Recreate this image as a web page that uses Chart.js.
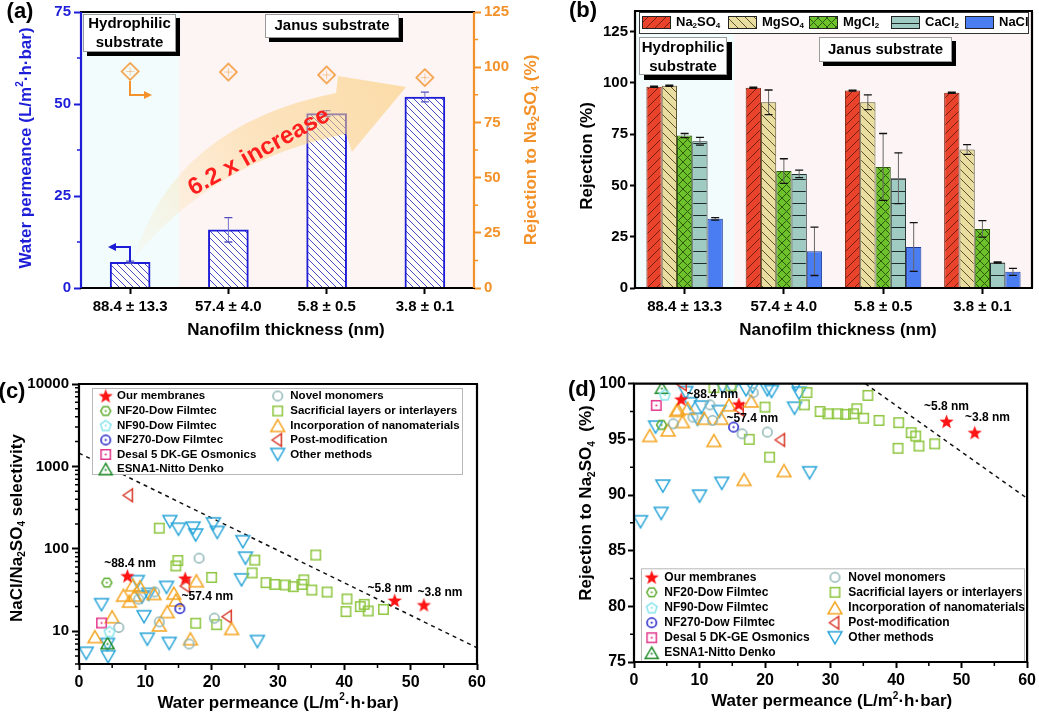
<!DOCTYPE html>
<html>
<head>
<meta charset="utf-8">
<script src="https://cdn.jsdelivr.net/npm/chart.js@4.4.1/dist/chart.umd.min.js"></script>
<style>
  body { margin: 0; background: #fff; }
  #wrap { position: relative; width: 1039px; height: 714px; overflow: hidden; background: #fff; }
  canvas { position: absolute; }
</style>
</head>
<body>
<div id="wrap">
  <canvas id="ca" width="548" height="345" style="left:0;top:0"></canvas>
  <canvas id="cb" width="491" height="345" style="left:548px;top:0"></canvas>
  <canvas id="cc" width="520" height="369" style="left:0;top:345px"></canvas>
  <canvas id="cd" width="519" height="369" style="left:520px;top:345px"></canvas>
</div>
<script>
// ── Data (a): permeance + Na2SO4 rejection ─────────────────────────────────
const THICKNESS = ['88.4 ± 13.3', '57.4 ± 4.0', '5.8 ± 0.5', '3.8 ± 0.1'];
const PERMEANCE = [7.0, 15.8, 47.4, 51.9];
const PERMEANCE_ERR = [0.3, 3.3, 0.8, 1.3];
const REJ_NA2SO4_A = [98.1, 97.8, 96.5, 95.3];
const A_LEFT_TICKS = [0, 25, 50, 75];
const A_RIGHT_TICKS = [0, 25, 50, 75, 100, 125];

// ── Data (b): salt rejection ──────────────────────────────────────────────────
const SALTS = ['Na_2SO_4', 'MgSO_4', 'MgCl_2', 'CaCl_2', 'NaCl'];
const REJ_NA2SO4 = [98.1, 97.6, 96.2, 95.2];
const REJ_MGSO4  = [98.6, 90.5, 90.5, 67.5];
const REJ_MGCL2  = [74.3, 57.0, 59.0, 28.8];
const REJ_CACL2  = [71.5, 55.6, 53.5, 12.4];
const REJ_NACL   = [33.7, 17.9, 20.0, 7.9];
const ERR_NA2SO4 = [0.3, 0.3, 0.2, 0.3];
const ERR_MGSO4  = [0.3, 6.0, 3.6, 2.4];
const ERR_MGCL2  = [1.0, 6.0, 16.3, 4.0];
const ERR_CACL2  = [1.9, 1.8, 12.4, 0.3];
const ERR_NACL   = [0.6, 11.8, 11.9, 1.7];
const B_TICKS = [0, 25, 50, 75, 100, 125];

// ── Data (c)/(d): literature comparison, [permeance, value] ──────────────────
const CATS = ['Our membranes', 'NF20-Dow Filmtec', 'NF90-Dow Filmtec', 'NF270-Dow Filmtec',
  'Desal 5 DK-GE Osmonics', 'ESNA1-Nitto Denko', 'Novel monomers', 'Sacrificial layers or interlayers',
  'Incorporation of nanomaterials', 'Post-modification', 'Other methods'];
const X_TICKS = [0, 10, 20, 30, 40, 50, 60];
const C_TICKS = [10, 100, 1000, 10000];
const D_TICKS = [75, 80, 85, 90, 95, 100];

const C_OUR = [[7.3, 46.8], [16.0, 43.8], [47.6, 23.6], [52.0, 20.8]];
const C_NF20 = [[4.2, 38.8]];
const C_NF90 = [[4.6, 9.9]];
const C_NF270 = [[15.2, 18.8]];
const C_DESAL = [[3.4, 12.6]];
const C_ESNA1 = [[4.3, 7.2]];
const C_NOVEL = [[18.1, 77], [11.4, 30], [9.0, 24.5], [6.0, 11.1], [12.1, 13], [20.4, 14.4], [16.6, 7.0]];
const C_SACR = [[12.1, 178], [14.6, 62], [14.9, 72], [17.6, 12.5], [20.0, 45], [20.75, 12], [26.1, 51],
  [26.5, 73], [28.2, 38.8], [29.5, 37], [31.1, 36.4], [32.3, 34.7], [33.6, 37], [33.9, 41.9], [35.1, 31.6],
  [35.7, 84], [37.4, 29.9], [40.4, 24.6], [40.25, 17.3], [42.4, 19.9], [43.0, 21.2], [43.6, 17.6], [45.9, 18.4]];
const C_INCORP = [[2.4, 8.6], [5.0, 15], [6.7, 27.4], [7.6, 23.2], [8.4, 27.4], [9.2, 34.7], [8.1, 36.5],
  [11.3, 28.7], [12.1, 11.9], [13.3, 17.3], [14.3, 29], [14.6, 23.9], [16.8, 8.1], [17.7, 41], [23.0, 10.8]];
const C_POST = [[7.5, 447], [16.1, 35.4], [22.4, 15]];
const C_OTHER = [[13.7, 214], [15.0, 173], [17.2, 178], [17.6, 147], [20.25, 201], [20.85, 158], [24.7, 122],
  [25.1, 77], [24.5, 42], [8.8, 40], [10.5, 28], [9.5, 26], [13.2, 34], [3.4, 21], [9.8, 15], [4.3, 6.9],
  [4.4, 4.9], [1.1, 5.4], [10.3, 8.0], [13.6, 7.1], [26.9, 7.5]];
const C_LIMIT = [[0, 1450], [60, 6.3]];

const D_OUR = [[7.2, 98.6], [16.0, 98.15], [47.7, 96.6], [52.0, 95.6]];
const D_NF20 = [[4.2, 96.3]];
const D_NF90 = [[4.7, 99.0]];
const D_NF270 = [[15.2, 96.1]];
const D_DESAL = [[3.4, 98.05]];
const D_ESNA1 = [[4.25, 99.65]];
const D_NOVEL = [[18.2, 99.2], [11.6, 98.1], [9.0, 97.0], [6.0, 96.4], [12.0, 96.7], [20.35, 95.65], [16.5, 95.5]];
const D_SACR = [[12.2, 99.65], [14.8, 99.8], [17.6, 95.0], [20.0, 97.9], [20.7, 93.4], [26.0, 98.1], [26.4, 99.2],
  [28.4, 97.5], [29.6, 97.3], [31.1, 97.3], [32.3, 97.25], [33.5, 97.3], [34.0, 97.75], [35.05, 96.9],
  [35.7, 98.95], [37.4, 96.7], [40.4, 96.5], [40.3, 94.2], [42.3, 95.6], [43.0, 95.3], [43.5, 94.4], [45.9, 94.6]];
const D_INCORP = [[2.4, 95.35], [5.2, 95.85], [6.5, 97.6], [6.7, 97.7], [7.4, 96.6], [8.2, 97.8], [10.7, 96.9],
  [12.2, 94.9], [13.3, 96.9], [14.5, 98.1], [16.8, 91.4], [17.9, 98.45], [22.9, 92.2]];
const D_POST = [[7.4, 99.95], [16.1, 97.7], [22.4, 94.95]];
const D_OTHER = [[1.0, 87.6], [4.15, 88.35], [4.4, 90.8], [10.0, 89.9], [13.4, 91.05], [26.8, 92.0], [3.3, 96.1],
  [9.7, 96.8], [10.3, 97.9], [13.0, 97.5], [24.5, 97.8], [8.6, 98.2], [13.5, 99.7], [15.0, 99.6], [17.1, 99.45],
  [18.1, 99.7], [20.35, 99.45], [21.0, 99.3], [24.7, 99.9], [25.2, 99.15], [7.9, 99.2]];
const D_LIMIT = [[35.3, 100], [60, 89.7]];

const C_SETS = [C_OUR, C_NF20, C_NF90, C_NF270, C_DESAL, C_ESNA1, C_NOVEL, C_SACR, C_INCORP, C_POST, C_OTHER];
const D_SETS = [D_OUR, D_NF20, D_NF90, D_NF270, D_DESAL, D_ESNA1, D_NOVEL, D_SACR, D_INCORP, D_POST, D_OTHER];

// ── Styles ────────────────────────────────────────────────────────────────────
const FONT = '"Liberation Sans", Arial, Helvetica, sans-serif';
const BLUE = '#1d1dd8', ORANGE = '#f3922a';
const tf = (s) => ({ family: FONT, size: s, weight: 'bold' });

// marker: [shape, colour, size, centre dot]
const MARKS = [['star', '#ff1414', 15, false], ['hex', '#5cab2e', 11, true], ['pent', '#86e3ec', 12, true],
  ['circle', '#1c1cc8', 11, true], ['square', '#e3378c', 11, true], ['up', '#1d8a26', 15, true],
  ['circle', '#8db3b3', 11, false], ['square', '#8dc63f', 11, false], ['up', '#f5a623', 16, false],
  ['left', '#d8392a', 15, false], ['down', '#27a4d8', 16, false]];

// text with _x subscripts and ^x superscripts
function rich(ctx, str, x, y, size, color, align) {
    const parts = [];
    let buf = '';
    for (let i = 0; i < str.length; i++) {
        const c = str[i];
        if ((c === '_' || c === '^') && i + 1 < str.length) {
            if (buf) parts.push([buf, 0]);
            buf = '';
            parts.push([str[i + 1], c === '_' ? 1 : -1]);
            i++;
        } else buf += c;
    }
    if (buf) parts.push([buf, 0]);
    const fN = `bold ${size}px ${FONT}`, fS = `bold ${Math.round(size * 0.6)}px ${FONT}`;
    let w = 0;
    parts.forEach(p => { ctx.font = p[1] ? fS : fN; w += ctx.measureText(p[0]).width; });
    let cx = align === 'center' ? x - w / 2 : align === 'right' ? x - w : x;
    ctx.fillStyle = color;
    ctx.textBaseline = 'middle';
    ctx.textAlign = 'left';
    parts.forEach(p => {
        ctx.font = p[1] ? fS : fN;
        const dy = p[1] === 1 ? size * 0.32 : p[1] === -1 ? -size * 0.35 : 0;
        ctx.fillText(p[0], cx, y + dy);
        cx += ctx.measureText(p[0]).width;
    });
}
function richRot(ctx, str, x, y, size, color) {
    ctx.save();
    ctx.translate(x, y);
    ctx.rotate(-Math.PI / 2);
    rich(ctx, str, 0, 0, size, color, 'center');
    ctx.restore();
}

function hatch(bg, fg, kind, s, lw) {
    const c = document.createElement('canvas');
    c.width = s; c.height = s;
    const g = c.getContext('2d');
    if (bg) { g.fillStyle = bg; g.fillRect(0, 0, s, s); }
    g.strokeStyle = fg; g.lineWidth = lw;
    g.beginPath();
    if (kind === 'back' || kind === 'cross') {
        g.moveTo(-1, -1); g.lineTo(s + 1, s + 1);
        g.moveTo(-1, s - 1); g.lineTo(1, s + 1);
        g.moveTo(s - 1, -1); g.lineTo(s + 1, 1);
    }
    if (kind === 'fwd' || kind === 'cross') {
        g.moveTo(-1, s + 1); g.lineTo(s + 1, -1);
        g.moveTo(-1, 1); g.lineTo(1, -1);
        g.moveTo(s - 1, s + 1); g.lineTo(s + 1, s - 1);
    }
    if (kind === 'horiz') { g.moveTo(0, s - 0.5); g.lineTo(s, s - 0.5); }
    g.stroke();
    return g.createPattern(c, 'repeat');
}

function marker(shape, color, size, dot) {
    const S = size + 4, m = S / 2, r = size / 2;
    const c = document.createElement('canvas');
    c.width = S; c.height = S;
    const g = c.getContext('2d');
    g.strokeStyle = color; g.fillStyle = color; g.lineWidth = 1.5;
    const poly = (n, rot, rr, cy) => {
        for (let k = 0; k < n; k++) {
            const a = rot + k * 2 * Math.PI / n;
            const px = m + rr * Math.cos(a), py = cy + rr * Math.sin(a);
            k ? g.lineTo(px, py) : g.moveTo(px, py);
        }
        g.closePath();
    };
    g.beginPath();
    if (shape === 'star') {
        for (let k = 0; k < 10; k++) {
            const a = -Math.PI / 2 + k * Math.PI / 5, rr = k % 2 ? r * 0.42 : r;
            const px = m + rr * Math.cos(a), py = m + 0.6 + rr * Math.sin(a);
            k ? g.lineTo(px, py) : g.moveTo(px, py);
        }
        g.closePath();
        g.fill();
        return c;
    }
    if (shape === 'circle') g.arc(m, m, r - 0.8, 0, Math.PI * 2);
    if (shape === 'square') g.rect(m - r + 0.8, m - r + 0.8, size - 1.6, size - 1.6);
    if (shape === 'up') poly(3, -Math.PI / 2, r, m + r * 0.25);
    if (shape === 'down') poly(3, Math.PI / 2, r, m - r * 0.25);
    if (shape === 'left') {
        g.moveTo(m - r * 0.75, m); g.lineTo(m + r * 0.5, m - r * 0.85); g.lineTo(m + r * 0.5, m + r * 0.85); g.closePath();
    }
    if (shape === 'hex') poly(6, 0, r - 0.5, m);
    if (shape === 'pent') poly(5, -Math.PI / 2, r - 0.5, m + 0.5);
    if (shape === 'diamond') poly(4, -Math.PI / 2, r, m);
    g.stroke();
    if (dot) { g.beginPath(); g.arc(m, m + (shape === 'up' ? 1 : 0), 1.1, 0, Math.PI * 2); g.fill(); }
    if (shape === 'diamond') {
        g.strokeStyle = 'rgba(243,146,42,0.45)'; g.lineWidth = 1;
        g.beginPath(); g.moveTo(m - r * 0.5, m); g.lineTo(m + r * 0.5, m); g.moveTo(m, m - r * 0.5); g.lineTo(m, m + r * 0.5); g.stroke();
    }
    return c;
}

function frame(ctx, a, col) {
    ctx.save();
    ctx.lineWidth = 2.2;
    const seg = (x0, y0, x1, y1, c) => { ctx.strokeStyle = c; ctx.beginPath(); ctx.moveTo(x0, y0); ctx.lineTo(x1, y1); ctx.stroke(); };
    seg(a.left - 1, a.top, a.right + 1, a.top, col.top);
    seg(a.left - 1, a.bottom, a.right + 1, a.bottom, col.bottom);
    seg(a.left, a.top, a.left, a.bottom, col.left);
    seg(a.right, a.top, a.right, a.bottom, col.right);
    ctx.restore();
}

function minor(ctx, scale, values, len, color, side) {
    ctx.save();
    ctx.strokeStyle = color; ctx.lineWidth = 1.5;
    ctx.beginPath();
    values.forEach(v => {
        const p = scale.getPixelForValue(v);
        if (side === 'left') { ctx.moveTo(scale.right, p); ctx.lineTo(scale.right - len, p); }
        if (side === 'right') { ctx.moveTo(scale.left, p); ctx.lineTo(scale.left + len, p); }
        if (side === 'bottom') { ctx.moveTo(p, scale.top); ctx.lineTo(p, scale.top + len); }
    });
    ctx.stroke();
    ctx.restore();
}

function shadowBox(ctx, x0, y0, x1, y1, off, lines, ys, size) {
    ctx.save();
    ctx.fillStyle = '#000';
    ctx.fillRect(x0 + off, y0 + off, x1 - x0, y1 - y0);
    ctx.fillStyle = '#fff';
    ctx.fillRect(x0, y0, x1 - x0, y1 - y0);
    ctx.strokeStyle = '#9a9a9a'; ctx.lineWidth = 1;
    ctx.strokeRect(x0 + 0.5, y0 + 0.5, x1 - x0 - 1, y1 - y0 - 1);
    lines.forEach((t, i) => rich(ctx, t, (x0 + x1) / 2, ys[i], size, '#000', 'center'));
    ctx.restore();
}

// error bars from dataset.errors
const errorBars = {
    id: 'errorBars',
    afterDatasetsDraw(chart) {
        const ctx = chart.ctx;
        chart.data.datasets.forEach((ds, i) => {
            if (!ds.errors) return;
            const meta = chart.getDatasetMeta(i);
            const ys = chart.scales[meta.yAxisID];
            ctx.save();
            meta.data.forEach((el, j) => {
                const v = ds.data[j], e = ds.errors[j];
                const x = el.x, t = ys.getPixelForValue(v + e), b = ys.getPixelForValue(v - e);
                ctx.strokeStyle = ds.errColor; ctx.lineWidth = 1;
                ctx.beginPath(); ctx.moveTo(x, t); ctx.lineTo(x, b); ctx.stroke();
                ctx.strokeStyle = ds.capColor; ctx.lineWidth = 1.3;
                ctx.beginPath();
                ctx.moveTo(x - 4, t); ctx.lineTo(x + 4, t);
                ctx.moveTo(x - 4, b); ctx.lineTo(x + 4, b);
                ctx.stroke();
            });
            ctx.restore();
        });
    },
};

const fixTicks = (list) => (s) => { s.ticks = list.map(v => ({ value: v })); };
const base = {
    responsive: false, animation: false, events: [],
    plugins: { legend: { display: false }, tooltip: { enabled: false } },
};

// ── Panel (a) ─────────────────────────────────────────────────────────────────
const hatchA = hatch('#ffffff', '#4a4ac8', 'back', 7, 1);
const diamondImg = marker('diamond', ORANGE, 17, false);

new Chart(document.getElementById('ca'), {
    type: 'bar',
    data: {
        labels: THICKNESS,
        datasets: [
            { type: 'line', data: REJ_NA2SO4_A, yAxisID: 'y2', showLine: false, pointStyle: diamondImg, pointRadius: 8, order: 1 },
            { type: 'bar', data: PERMEANCE, yAxisID: 'y', backgroundColor: hatchA, borderColor: BLUE, borderWidth: 2,
              barThickness: 40, errors: PERMEANCE_ERR, errColor: '#7474c8', capColor: '#5050c0', order: 2 },
        ],
    },
    options: {
        ...base,
        layout: { padding: { top: 9, left: 0, right: 0, bottom: 0 } },
        scales: {
            x: {
                grid: { offset: false, drawOnChartArea: false, tickLength: 6, tickWidth: 2, tickColor: '#000' },
                border: { display: false },
                ticks: { font: tf(15), color: '#000', padding: 4, autoSkip: false, maxRotation: 0 },
                afterFit: (s) => { s.height = 57; },
            },
            y: {
                position: 'left', min: 0, max: 75, afterBuildTicks: fixTicks(A_LEFT_TICKS),
                grid: { drawOnChartArea: false, tickLength: 7, tickWidth: 2, tickColor: BLUE },
                border: { display: false },
                ticks: { font: tf(15), color: BLUE, padding: 3 },
                afterFit: (s) => { s.width = 81; },
            },
            y2: {
                position: 'right', min: 0, max: 125, afterBuildTicks: fixTicks(A_RIGHT_TICKS),
                grid: { drawOnChartArea: false, tickLength: 7, tickWidth: 2, tickColor: ORANGE },
                border: { display: false },
                ticks: { font: tf(15), color: ORANGE, padding: 3 },
                afterFit: (s) => { s.width = 74; },
            },
        },
    },
    plugins: [errorBars, {
        id: 'decoA',
        beforeDraw(chart) {
            const { ctx, chartArea: a, scales } = chart;
            const split = (scales.x.getPixelForValue(0) + scales.x.getPixelForValue(1)) / 2;
            ctx.save();
            ctx.fillStyle = '#fdf4f4'; ctx.fillRect(a.left, a.top, a.right - a.left, a.bottom - a.top);
            ctx.fillStyle = '#f2fcfc'; ctx.fillRect(a.left, a.top, split - a.left, a.bottom - a.top);
            ctx.restore();
        },
        afterDatasetsDraw(chart) {
            const { ctx } = chart;
            ctx.save();
            // broad orange trend arrow
            const gr = ctx.createLinearGradient(136, 258, 400, 90);
            gr.addColorStop(0, 'rgba(253,225,170,0.1)');
            gr.addColorStop(0.5, 'rgba(252,212,140,0.5)');
            gr.addColorStop(1, 'rgba(250,205,120,0.6)');
            ctx.fillStyle = gr;
            ctx.beginPath();
            ctx.moveTo(134, 258);
            ctx.quadraticCurveTo(175, 125, 336, 93);
            ctx.lineTo(338, 76);
            ctx.lineTo(406, 87);
            ctx.lineTo(352, 152);
            ctx.lineTo(346, 134);
            ctx.quadraticCurveTo(215, 160, 134, 258);
            ctx.fill();
            // small axis arrows
            ctx.lineWidth = 2;
            ctx.strokeStyle = BLUE; ctx.fillStyle = BLUE;
            ctx.beginPath(); ctx.moveTo(130, 262); ctx.lineTo(130, 247); ctx.lineTo(114, 247); ctx.stroke();
            ctx.beginPath(); ctx.moveTo(108, 247); ctx.lineTo(116, 243); ctx.lineTo(116, 251); ctx.closePath(); ctx.fill();
            ctx.strokeStyle = ORANGE; ctx.fillStyle = ORANGE;
            ctx.beginPath(); ctx.moveTo(130, 81); ctx.lineTo(130, 95); ctx.lineTo(145, 95); ctx.stroke();
            ctx.beginPath(); ctx.moveTo(152, 95); ctx.lineTo(144, 91); ctx.lineTo(144, 99); ctx.closePath(); ctx.fill();
            // label
            ctx.translate(259, 152);
            ctx.rotate(-29 * Math.PI / 180);
            ctx.font = `bold 24px ${FONT}`;
            ctx.textAlign = 'center'; ctx.textBaseline = 'middle';
            ctx.fillStyle = '#ff1e1e';
            ctx.fillText('6.2 x increase', 0, 0);
            ctx.restore();
        },
        afterDraw(chart) {
            const { ctx, chartArea: a, scales } = chart;
            frame(ctx, a, { top: '#000', bottom: '#000', left: BLUE, right: ORANGE });
            minor(ctx, scales.y, [12.5, 37.5, 62.5], 4, BLUE, 'left');
            minor(ctx, scales.y2, [12.5, 37.5, 62.5, 87.5, 112.5], 4, ORANGE, 'right');
            shadowBox(ctx, 83, 14, 176, 52, 4, ['Hydrophilic', 'substrate'], [23.5, 42.5], 15);
            shadowBox(ctx, 265, 14, 399, 38, 4, ['Janus substrate'], [26], 15);
            richRot(ctx, 'Water permeance (L/m^2·h·bar)', 26, 148, 17, BLUE);
            richRot(ctx, 'Rejection to Na_2SO_4 (%)', 531, 150, 17, ORANGE);
            rich(ctx, 'Nanofilm thickness (nm)', 286, 330, 17, '#000', 'center');
            rich(ctx, '(a)', 20, 12, 22, '#000', 'center');
        },
    }],
});

// ── Panel (b) ─────────────────────────────────────────────────────────────────
const B_FILLS = [
    hatch('#e9432c', '#7a1f10', 'fwd', 9, 1),
    hatch('#e9dea0', '#5e5530', 'back', 9, 1),
    hatch('#6dc22b', '#2e5a10', 'cross', 9, 1),
    hatch('#a0cbc3', '#1d2b2a', 'horiz', 12, 1),
    '#4b7df2',
];
const B_BORDERS = ['#7a1f10', '#5e5530', '#2e5a10', '#1d2b2a', '#1d3a9a'];
const B_VALUES = [REJ_NA2SO4, REJ_MGSO4, REJ_MGCL2, REJ_CACL2, REJ_NACL];
const B_ERRS = [ERR_NA2SO4, ERR_MGSO4, ERR_MGCL2, ERR_CACL2, ERR_NACL];

new Chart(document.getElementById('cb'), {
    type: 'bar',
    data: {
        labels: THICKNESS,
        datasets: SALTS.map((s, i) => ({
            label: s, data: B_VALUES[i], errors: B_ERRS[i], errColor: '#666', capColor: '#111',
            backgroundColor: B_FILLS[i], borderColor: B_BORDERS[i], borderWidth: 1,
            categoryPercentage: 0.77, barPercentage: 1.0,
        })),
    },
    options: {
        ...base,
        layout: { padding: { top: 10, left: 0, right: 7, bottom: 0 } },
        scales: {
            x: {
                grid: { offset: false, drawOnChartArea: false, tickLength: 6, tickWidth: 2, tickColor: '#000' },
                border: { display: false },
                ticks: { font: tf(15), color: '#000', padding: 4, autoSkip: false, maxRotation: 0 },
                afterFit: (s) => { s.height = 57; },
            },
            y: {
                min: 0, max: 135, afterBuildTicks: fixTicks(B_TICKS),
                grid: { drawOnChartArea: false, tickLength: 5, tickWidth: 2, tickColor: '#000' },
                border: { display: false },
                ticks: { font: tf(15), color: '#000', padding: 2 },
                afterFit: (s) => { s.width = 87; },
            },
        },
    },
    plugins: [errorBars, {
        id: 'decoB',
        beforeDraw(chart) {
            const { ctx, chartArea: a, scales } = chart;
            const split = (scales.x.getPixelForValue(0) + scales.x.getPixelForValue(1)) / 2;
            ctx.save();
            ctx.fillStyle = '#fdf5f5'; ctx.fillRect(a.left, a.top, a.right - a.left, a.bottom - a.top);
            ctx.fillStyle = '#f3fcfc'; ctx.fillRect(a.left, a.top, split - a.left, a.bottom - a.top);
            ctx.restore();
        },
        afterDraw(chart) {
            const { ctx, chartArea: a } = chart;
            frame(ctx, a, { top: '#000', bottom: '#000', left: '#000', right: '#000' });
            // legend
            ctx.save();
            ctx.fillStyle = '#fff'; ctx.fillRect(91, 12, 390, 22);
            ctx.strokeStyle = '#333'; ctx.lineWidth = 1; ctx.strokeRect(91.5, 12.5, 389, 21);
            const sw = [94, 180, 261, 343, 417];
            SALTS.forEach((s, i) => {
                ctx.fillStyle = B_FILLS[i];
                ctx.fillRect(sw[i], 16, 29, 13);
                ctx.strokeStyle = '#222'; ctx.strokeRect(sw[i] + 0.5, 16.5, 28, 12);
                rich(ctx, s, sw[i] + 34, 22, 13, '#000', 'left');
            });
            ctx.restore();
            shadowBox(ctx, 91, 37, 179, 75, 5, ['Hydrophilic', 'substrate'], [48, 66.5], 15);
            shadowBox(ctx, 271, 37, 404, 62, 4, ['Janus substrate'], [50], 15);
            richRot(ctx, 'Rejection (%)', 39, 156, 17, '#000');
            rich(ctx, 'Nanofilm thickness (nm)', 290, 330, 17, '#000', 'center');
            rich(ctx, '(b)', 35, 11, 22, '#000', 'center');
        },
    }],
});

// ── Panels (c) and (d) ────────────────────────────────────────────────────────
const IMGS = MARKS.map(m => marker(m[0], m[1], m[2], m[3]));

function scatterSets(sets, limit) {
    const ds = sets.map((pts, i) => ({
        label: CATS[i], data: pts.map(p => ({ x: p[0], y: p[1] })),
        pointStyle: IMGS[i], pointRadius: 6, showLine: false, clip: 0,
    }));
    ds.push({ data: limit.map(p => ({ x: p[0], y: p[1] })), showLine: true, pointRadius: 0,
        borderColor: '#111', borderWidth: 1.5, borderDash: [4, 4], clip: 0 });
    return ds;
}

function drawLegend(ctx, box, rows, cols, size) {
    ctx.save();
    ctx.fillStyle = '#fff';
    ctx.fillRect(box[0], box[1], box[2] - box[0], box[3] - box[1]);
    ctx.strokeStyle = '#b8b8b8'; ctx.lineWidth = 1;
    ctx.strokeRect(box[0] + 0.5, box[1] + 0.5, box[2] - box[0] - 1, box[3] - box[1] - 1);
    CATS.forEach((name, i) => {
        const col = i < 6 ? 0 : 1, row = col ? i - 6 : i, img = IMGS[i];
        ctx.drawImage(img, cols[col][0] - img.width / 2, rows[row] - img.height / 2);
        rich(ctx, name, cols[col][1], rows[row], size, '#000', 'left');
    });
    ctx.restore();
}

const xAxis = (h, pad) => ({
    type: 'linear', min: 0, max: 60, afterBuildTicks: fixTicks(X_TICKS),
    grid: { drawOnChartArea: false, tickLength: 6, tickWidth: 2, tickColor: '#000' },
    border: { display: false },
    ticks: { font: tf(16), color: '#000', padding: pad },
    afterFit: (s) => { s.height = h; },
});

function logMinor() {
    const out = [];
    for (let d = 1; d <= 1000; d *= 10) for (let k = 2; k <= 9; k++) out.push(k * d);
    return out.filter(v => v >= 4 && v < 10000);
}

new Chart(document.getElementById('cc'), {
    type: 'scatter',
    data: { datasets: scatterSets(C_SETS, C_LIMIT) },
    options: {
        ...base,
        layout: { padding: { top: 39, left: 0, right: 43, bottom: 0 } },
        scales: {
            x: xAxis(50, 3),
            y: {
                type: 'logarithmic', min: 4, max: 10000, afterBuildTicks: fixTicks(C_TICKS),
                grid: { drawOnChartArea: false, tickLength: 7, tickWidth: 2, tickColor: '#000' },
                border: { display: false },
                ticks: { font: tf(15), color: '#000', padding: 3, callback: (v) => String(v) },
                afterFit: (s) => { s.width = 79; },
            },
        },
    },
    plugins: [{
        id: 'decoC',
        afterDraw(chart) {
            const { ctx, chartArea: a, scales } = chart;
            frame(ctx, a, { top: '#000', bottom: '#000', left: '#000', right: '#000' });
            minor(ctx, scales.y, logMinor(), 4, '#000', 'left');
            minor(ctx, scales.x, [5, 15, 25, 35, 45, 55], 4, '#000', 'bottom');
            drawLegend(ctx, [92, 43, 463, 130], [51, 66, 80.5, 95, 109.5, 124], [[105.7, 117], [277.7, 290.3]], 11.5);
            rich(ctx, '~88.4 nm', 130, 218.5, 12, '#000', 'center');
            rich(ctx, '~57.4 nm', 181.5, 251.5, 12, '#000', 'left');
            rich(ctx, '~5.8 nm', 367.5, 243.5, 12, '#000', 'left');
            rich(ctx, '~3.8 nm', 417.5, 247.5, 12, '#000', 'left');
            richRot(ctx, 'NaCl/Na_2SO_4 selectivity', 17, 183, 17, '#000');
            rich(ctx, 'Water permeance (L/m^2·h·bar)', 278, 358, 17, '#000', 'center');
            rich(ctx, '(c)', 12, 47, 22, '#000', 'center');
        },
    }],
});

new Chart(document.getElementById('cd'), {
    type: 'scatter',
    data: { datasets: scatterSets(D_SETS, D_LIMIT) },
    options: {
        ...base,
        layout: { padding: { top: 38.7, left: 0, right: 10, bottom: 0 } },
        scales: {
            x: xAxis(52, 3),
            y: {
                min: 75, max: 100, afterBuildTicks: fixTicks(D_TICKS),
                grid: { drawOnChartArea: false, tickLength: 6, tickWidth: 2, tickColor: '#000' },
                border: { display: false },
                ticks: { font: tf(16), color: '#000', padding: 2 },
                afterFit: (s) => { s.width = 114; },
            },
        },
    },
    plugins: [{
        id: 'decoD',
        afterDraw(chart) {
            const { ctx, chartArea: a, scales } = chart;
            drawLegend(ctx, [121, 223.3, 505, 317], [232.3, 247.3, 262.7, 277.7, 292.7, 307.7], [[131.7, 144.3], [315, 328.3]], 12);
            frame(ctx, a, { top: '#000', bottom: '#000', left: '#000', right: '#000' });
            minor(ctx, scales.y, [77.5, 82.5, 87.5, 92.5, 97.5], 4, '#000', 'left');
            minor(ctx, scales.x, [5, 15, 25, 35, 45, 55], 4, '#000', 'bottom');
            rich(ctx, '~88.4 nm', 166.5, 50, 12, '#000', 'left');
            rich(ctx, '~57.4 nm', 206.5, 74, 12, '#000', 'left');
            rich(ctx, '~5.8 nm', 404, 61.7, 12, '#000', 'left');
            rich(ctx, '~3.8 nm', 445, 72.3, 12, '#000', 'left');
            richRot(ctx, 'Rejection to Na_2SO_4  (%)', 66.7, 158, 17, '#000');
            rich(ctx, 'Water permeance (L/m^2·h·bar)', 311.7, 356.7, 17, '#000', 'center');
            rich(ctx, '(d)', 62, 45, 22, '#000', 'center');
        },
    }],
});
</script>
</body>
</html>
